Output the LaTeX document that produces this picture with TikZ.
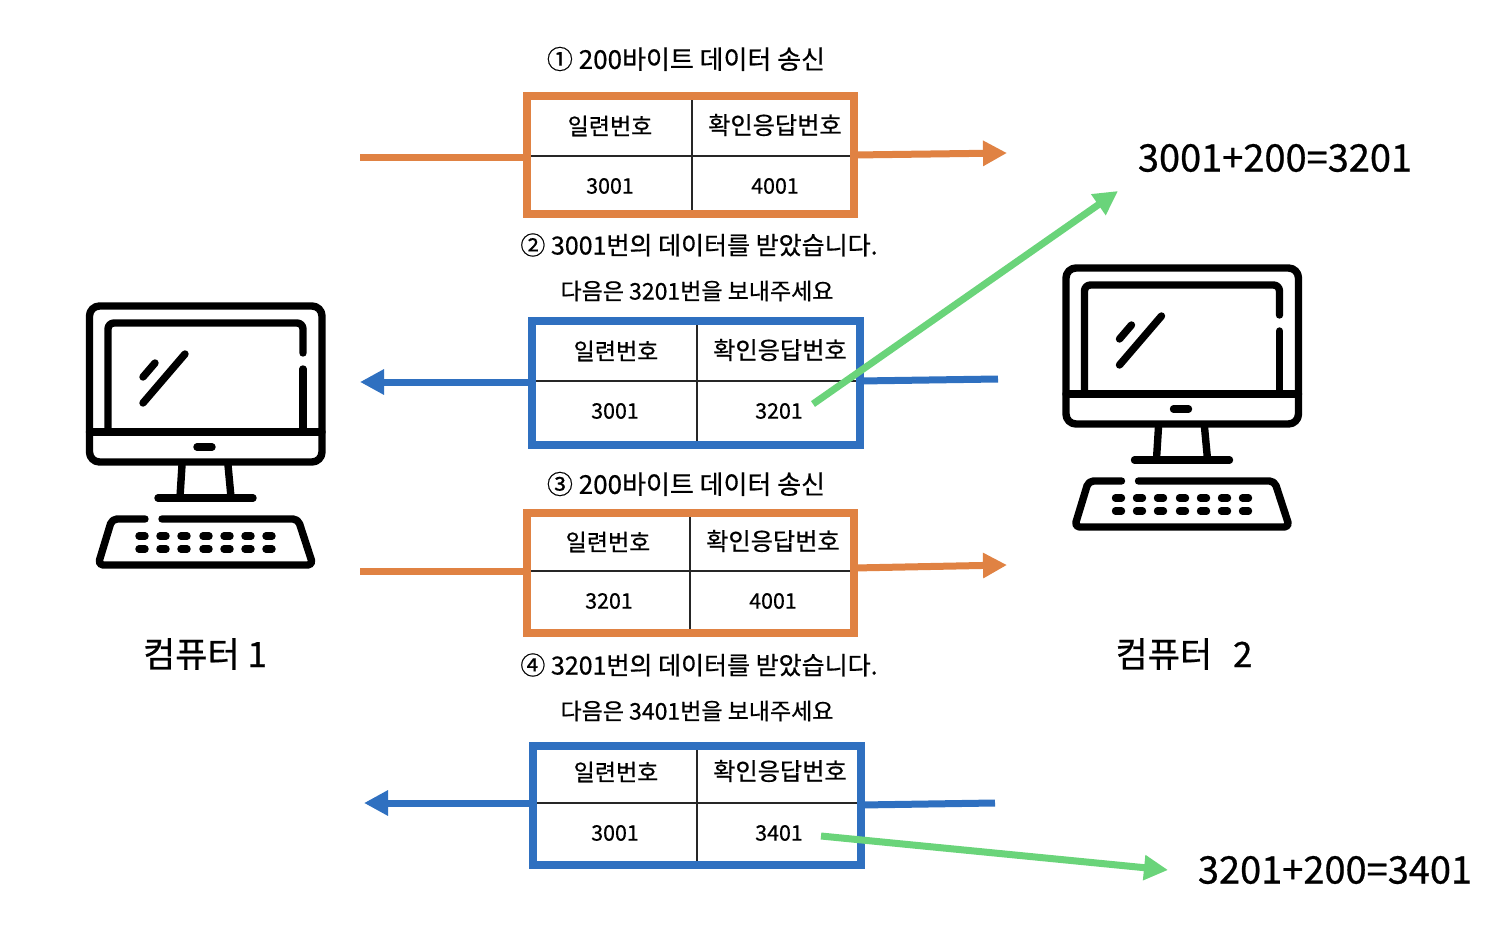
\documentclass[tikz,border=0pt]{standalone}
\usepackage{fontspec}
\setmainfont{Noto Sans CJK KR}[FakeBold=0.6]
\usetikzlibrary{arrows.meta}
\definecolor{orangeln}{HTML}{E08243}
\definecolor{blueln}{HTML}{2F70C0}
\definecolor{greenln}{HTML}{6AD47A}
\tikzset{
 x=0.5pt,y=-0.5pt,
 iconln/.style={line width=3.7pt,line cap=round,line join=round,black},
 tablebox/.style={line width=4pt,outer sep=0pt,inner sep=0pt,anchor=north west},
 divider/.style={line width=0.9pt,black!85,shorten >=2pt,shorten <=2pt},
 cell/.style={inner sep=0pt,font=\fontsize{11.5}{14}\selectfont,text=black},
 cellwide/.style={inner sep=0pt,font=\fontsize{12.1}{14}\selectfont,text=black},
 cellnum/.style={inner sep=0pt,font=\fontsize{10.7}{13}\selectfont,text=black},
 capbig/.style={inner sep=0pt,font=\fontsize{13}{15}\selectfont,text=black},
 capmid/.style={inner sep=0pt,font=\fontsize{12.5}{15}\selectfont,text=black},
 capsmall/.style={inner sep=0pt,font=\fontsize{11.5}{14}\selectfont,text=black},
 bigtext/.style={inner sep=0pt,font=\fontsize{19}{22}\selectfont,text=black},
 namelabel/.style={inner sep=0pt,font=\fontsize{17.5}{20}\selectfont,text=black},
 flow/.style={line width=3.5pt,-{Triangle[length=12pt,width=12pt]}},
 flowplain/.style={line width=3.5pt},
 computer/.pic={
  \draw[iconln,rounded corners=5pt] (89.5,306) rectangle (322,462);
  \draw[iconln] (89.5,432) -- (322,432);
  \draw[iconln,rounded corners=3pt] (108,432) -- (108,323) -- (303,323) -- (303,353);
  \draw[iconln] (303,369) -- (303,432);
  \draw[iconln] (197,447) -- (212,447);
  \draw[iconln] (143,377) -- (155,363);
  \draw[iconln] (143,403) -- (185,354);
  \draw[iconln] (182,465) -- (180,497);
  \draw[iconln] (228,465) -- (231,497);
  \draw[iconln] (158,498) -- (253,498);
  \draw[iconln,rounded corners=2.5pt] (145,519) -- (112,519) -- (98,565) -- (313,565) -- (298,519) -- (162,519);
  \foreach \dx in {142,163,184,206,227,248,269}
   \foreach \dy in {536,549}
    \draw[iconln] (\dx-3,\dy) -- (\dx+3,\dy);
 }
}
\begin{document}
\begin{tikzpicture}
\useasboundingbox (0,0) rectangle (1512,942);
\fill[white] (0,0) rectangle (1512,942);

\pic at (0,0) {computer};
\pic at (976.5,-38) {computer};

% captions
\node[capbig] (c1) at (686,59) {① 200바이트 데이터 송신};
\node[capmid] (c2a) at (699,245) {② 3001번의 데이터를 받았습니다.};
\node[capsmall] (c2b) at (697,291) {다음은 3201번을 보내주세요};
\node[capbig] (c3) at (686,484) {③ 200바이트 데이터 송신};
\node[capmid] (c4a) at (699,665) {④ 3201번의 데이터를 받았습니다.};
\node[capsmall] (c4b) at (697,711) {다음은 3401번을 보내주세요};

% table 1
\coordinate (o1in) at (360,157);
\coordinate (o1out) at (1007,153);
\node[draw=orangeln,tablebox,minimum width=163.5pt,minimum height=59pt] (t1) at (527,96) {};
\draw[orangeln,flowplain] (o1in) -- (t1.west |- o1in);
\draw[orangeln,flow] (t1.east |- 0,155) -- (o1out);
\draw[divider] (t1.west |- 0,156) -- (t1.east |- 0,156);
\draw[divider] (t1.north -| 692,0) -- (t1.south -| 692,0);
\node[cell] (t1a) at (610,126) {일련번호};
\node[cellwide] (t1b) at (775,125) {확인응답번호};
\node[cellnum] (t1c) at (610,186) {3001};
\node[cellnum] (t1d) at (775,186) {4001};

% table 2
\coordinate (b2out) at (360,382);
\coordinate (b2in) at (998,379);
\node[draw=blueln,tablebox,minimum width=164pt,minimum height=62pt] (t2) at (532,321) {};
\draw[blueln,flow] (t2.west |- b2out) -- (b2out);
\draw[blueln,flowplain] (t2.east |- 0,381) -- (b2in);
\draw[divider] (t2.west |- 0,381) -- (t2.east |- 0,381);
\draw[divider] (t2.north -| 697,0) -- (t2.south -| 697,0);
\node[cell] (t2a) at (616,351) {일련번호};
\node[cellwide] (t2b) at (780,350) {확인응답번호};
\node[cellnum] (t2c) at (615,411) {3001};
\node[cellnum] (t2d) at (779,411) {3201};

% table 3
\coordinate (o3in) at (360,571);
\coordinate (o3out) at (1007,565);
\node[draw=orangeln,tablebox,minimum width=163.5pt,minimum height=60pt] (t3) at (527,513) {};
\draw[orangeln,flowplain] (o3in) -- (t3.west |- o3in);
\draw[orangeln,flow] (t3.east |- 0,568) -- (o3out);
\draw[divider] (t3.west |- 0,571) -- (t3.east |- 0,571);
\draw[divider] (t3.north -| 690,0) -- (t3.south -| 690,0);
\node[cell] (t3a) at (608,542) {일련번호};
\node[cellwide] (t3b) at (773,541) {확인응답번호};
\node[cellnum] (t3c) at (609,601) {3201};
\node[cellnum] (t3d) at (773,601) {4001};

% table 4
\coordinate (b4out) at (364,803);
\coordinate (b4in) at (995,803);
\node[draw=blueln,tablebox,minimum width=164pt,minimum height=59.5pt] (t4) at (533,746) {};
\draw[blueln,flow] (t4.west |- b4out) -- (b4out);
\draw[blueln,flowplain] (t4.east |- 0,805) -- (b4in);
\draw[divider] (t4.west |- 0,803) -- (t4.east |- 0,803);
\draw[divider] (t4.north -| 697,0) -- (t4.south -| 697,0);
\node[cell] (t4a) at (616,772) {일련번호};
\node[cellwide] (t4b) at (780,771) {확인응답번호};
\node[cellnum] (t4c) at (615,833) {3001};
\node[cellnum] (t4d) at (779,833) {3401};

% equations and green arrows
\node[bigtext] (e1) at (1275,158) {3001+200=3201};
\node[bigtext] (e2) at (1335,870) {3201+200=3401};
\coordinate (g1s) at (813,404);
\coordinate (g1e) at (1118,191);
\coordinate (g2s) at (821,836);
\coordinate (g2e) at (1168,870);
\draw[greenln,flow] (g1s) -- (g1e);
\draw[greenln,flow] (g2s) -- (g2e);

% names
\node[namelabel] (n1) at (205,654) {컴퓨터 1};
\node[namelabel] (n2) at (1184,654) {컴퓨터\hspace{6.5pt} 2};
\end{tikzpicture}
\end{document}
